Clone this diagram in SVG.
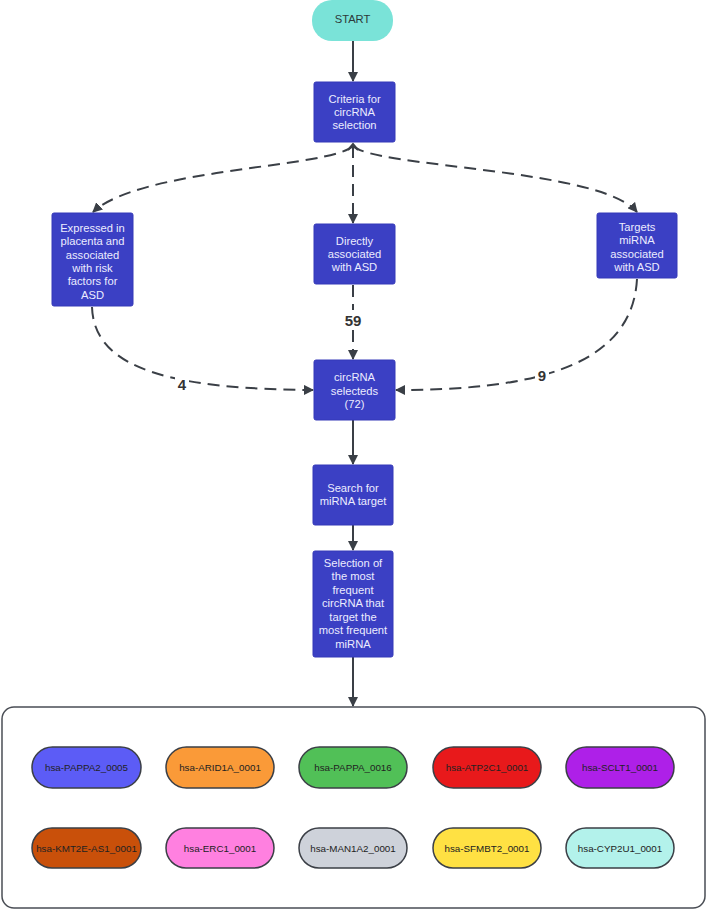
<svg xmlns="http://www.w3.org/2000/svg" width="709" height="910" viewBox="0 0 709 910">
<defs>
<marker id="ah" markerWidth="10" markerHeight="10" refX="9" refY="5" orient="auto" markerUnits="userSpaceOnUse">
<path d="M0,0 L10,5 L0,10 Z" fill="#3a3f46"/>
</marker>
<style>
.box{fill:#3b40c4;stroke:#3438b8;stroke-width:1}
.bt{font-family:"Liberation Sans",Arial,sans-serif;font-size:11.2px;fill:#ececff;text-anchor:middle}
.pill{stroke:#3b3f46;stroke-width:1.5}
.pt{font-family:"Liberation Sans",Arial,sans-serif;font-size:9.8px;fill:#222;text-anchor:middle}
.c{fill:none;stroke:#3a3f46;stroke-width:2}
.d{fill:none;stroke:#3a3f46;stroke-width:2;stroke-dasharray:12 7}
.lbl{font-family:"Liberation Sans",Arial,sans-serif;font-size:15px;font-weight:bold;fill:#333;text-anchor:middle}
</style>
</defs>
<rect width="709" height="910" fill="#ffffff"/>

<g id="connectors">
<path class="c" d="M353,41 L353,81" marker-end="url(#ah)"/>
<path class="d" d="M353,146 C330,168 140,168 93,212" marker-end="url(#ah)"/>
<path class="d" d="M353,146 L353,223" marker-end="url(#ah)"/>
<path class="d" d="M353,146 C376,168 600,168 637,212" marker-end="url(#ah)"/>
<path class="c" d="M348,150 L353,144 L358,150" stroke-width="1.8"/>
<path class="d" d="M353,285 L353,310"/>
<path class="d" d="M353,330 L353,359" marker-end="url(#ah)"/>
<path class="d" d="M92,307 C94,372 180,389 313,390" marker-end="url(#ah)"/>
<path class="d" d="M637,279 C632,372 520,390 396,390" marker-end="url(#ah)"/>
<path class="c" d="M353,420 L353,464" marker-end="url(#ah)"/>
<path class="c" d="M353,525 L353,550" marker-end="url(#ah)"/>
<path class="c" d="M353,657 L353,706" marker-end="url(#ah)"/>
<rect x="343" y="311" width="20" height="18" fill="#ffffff"/>
<text class="lbl" x="353" y="326">59</text>
<rect x="175" y="376" width="14" height="18" fill="#ffffff"/>
<text class="lbl" x="182" y="390">4</text>
<rect x="535" y="367" width="14" height="18" fill="#ffffff"/>
<text class="lbl" x="542" y="381">9</text>
</g>

<g id="start">
<rect x="312" y="0" width="81" height="41" rx="20" fill="#7ae3d8"/>
<text x="352.5" y="23" font-family="'Liberation Sans',Arial,sans-serif" font-size="11.2px" fill="#2d3a3a" text-anchor="middle">START</text>
</g>

<g id="criteria">
<rect class="box" x="314" y="82" width="81" height="60" rx="2"/>
<text class="bt" x="354.5" y="102.5">Criteria for</text>
<text class="bt" x="354.5" y="115.5">circRNA</text>
<text class="bt" x="354.5" y="128.5">selection</text>
</g>

<g id="placenta">
<rect class="box" x="52" y="213" width="81" height="93" rx="2"/>
<text class="bt" x="92.5" y="231.5">Expressed in</text>
<text class="bt" x="92.5" y="245">placenta and</text>
<text class="bt" x="92.5" y="258.5">associated</text>
<text class="bt" x="92.5" y="271.5">with risk</text>
<text class="bt" x="92.5" y="285">factors for</text>
<text class="bt" x="92.5" y="298.5">ASD</text>
</g>

<g id="directly">
<rect class="box" x="314" y="224" width="81" height="60" rx="2"/>
<text class="bt" x="354.5" y="244.5">Directly</text>
<text class="bt" x="354.5" y="257.5">associated</text>
<text class="bt" x="354.5" y="271">with ASD</text>
</g>

<g id="targets">
<rect class="box" x="597" y="213" width="80" height="65" rx="2"/>
<text class="bt" x="637" y="230.5">Targets</text>
<text class="bt" x="637" y="244">miRNA</text>
<text class="bt" x="637" y="257.5">associated</text>
<text class="bt" x="637" y="270.5">with ASD</text>
</g>

<g id="selecteds">
<rect class="box" x="314" y="360" width="81" height="60" rx="2"/>
<text class="bt" x="354.5" y="381">circRNA</text>
<text class="bt" x="354.5" y="394.5">selecteds</text>
<text class="bt" x="354.5" y="408">(72)</text>
</g>

<g id="search">
<rect class="box" x="313" y="465" width="80" height="60" rx="2"/>
<text class="bt" x="353" y="491.5">Search for</text>
<text class="bt" x="353" y="504.5">miRNA target</text>
</g>

<g id="selection">
<rect class="box" x="313" y="551" width="80" height="106" rx="2"/>
<text class="bt" x="353" y="566.5">Selection of</text>
<text class="bt" x="353" y="580">the most</text>
<text class="bt" x="353" y="593.5">frequent</text>
<text class="bt" x="353" y="607">circRNA that</text>
<text class="bt" x="353" y="620.5">target the</text>
<text class="bt" x="353" y="634">most frequent</text>
<text class="bt" x="353" y="647.5">miRNA</text>
</g>

<g id="results">
<rect x="2" y="707" width="703" height="201" rx="12" fill="#ffffff" stroke="#4a4e55" stroke-width="1.5"/>
</g>

<g id="pill-PAPPA2">
<rect class="pill" x="32" y="747" width="109" height="41" rx="20.5" fill="#5c5cf6"/>
<text class="pt" x="86.5" y="771">hsa-PAPPA2_0005</text>
</g>
<g id="pill-ARID1A">
<rect class="pill" x="166" y="747" width="108" height="41" rx="20.5" fill="#fa9a38"/>
<text class="pt" x="220" y="771">hsa-ARID1A_0001</text>
</g>
<g id="pill-PAPPA">
<rect class="pill" x="299" y="747" width="108" height="41" rx="20.5" fill="#51c057"/>
<text class="pt" x="353" y="771">hsa-PAPPA_0016</text>
</g>
<g id="pill-ATP2C1">
<rect class="pill" x="433" y="747" width="108" height="41" rx="20.5" fill="#e8191b"/>
<text class="pt" x="487" y="771">hsa-ATP2C1_0001</text>
</g>
<g id="pill-SCLT1">
<rect class="pill" x="566" y="747" width="108" height="41" rx="20.5" fill="#ae20e8"/>
<text class="pt" x="620" y="771">hsa-SCLT1_0001</text>
</g>

<g id="pill-KMT2E">
<rect class="pill" x="32" y="828" width="109" height="40" rx="20" fill="#c9500a"/>
<text class="pt" x="86.5" y="851.5">hsa-KMT2E-AS1_0001</text>
</g>
<g id="pill-ERC1">
<rect class="pill" x="166" y="828" width="108" height="40" rx="20" fill="#ff80e0"/>
<text class="pt" x="220" y="851.5">hsa-ERC1_0001</text>
</g>
<g id="pill-MAN1A2">
<rect class="pill" x="299" y="828" width="108" height="40" rx="20" fill="#ced2da"/>
<text class="pt" x="353" y="851.5">hsa-MAN1A2_0001</text>
</g>
<g id="pill-SFMBT2">
<rect class="pill" x="433" y="828" width="108" height="40" rx="20" fill="#ffe143"/>
<text class="pt" x="487" y="851.5">hsa-SFMBT2_0001</text>
</g>
<g id="pill-CYP2U1">
<rect class="pill" x="566" y="828" width="108" height="40" rx="20" fill="#b3f2eb"/>
<text class="pt" x="620" y="851.5">hsa-CYP2U1_0001</text>
</g>
</svg>
